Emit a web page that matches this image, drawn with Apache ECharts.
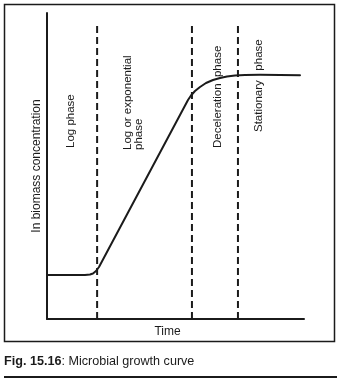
<!DOCTYPE html>
<html>
<head>
<meta charset="utf-8">
<script src="https://cdn.jsdelivr.net/npm/echarts@6/dist/echarts.min.js"></script>
<style>
  html, body { margin: 0; padding: 0; background: #ffffff; }
  #chart { width: 344px; height: 385px; }
</style>
</head>
<body>
<div id="chart"></div>
<script>
// Growth curve: time (relative units, 0-100) vs ln biomass concentration (relative units, 0-100)
const timeValues = [0, 14.79, 16.73, 17.90, 19.07, 20.23, 54.86, 56.03, 57.59, 59.53, 61.87, 64.59, 67.32, 70.04, 73.15, 77.04, 82.88, 90.66, 98.44];
const lnBiomass  = [14.38, 14.38, 14.54, 14.87, 15.69, 16.99, 71.57, 73.04, 74.51, 75.82, 77.12, 78.10, 78.76, 79.25, 79.58, 79.74, 79.80, 79.74, 79.64];

// Times at which the growth phases change (dashed separators)
const phaseBoundaries = [19.5, 56.4, 74.3];
const boundaryTop = 96.7;

// Phase names, written vertically inside each region
const phaseNames = ['Log phase', 'Log or exponential\nphase', 'Deceleration  phase', 'Stationary   phase'];

const axisTitleX = 'Time';
const axisTitleY = 'In biomass concentration';
const captionBold = 'Fig. 15.16';
const captionRest = ': Microbial growth curve';

const ink = '#1b1b1b';
const font = '"Liberation Sans", Arial, Helvetica, sans-serif';

const chart = echarts.init(document.getElementById('chart'), null, { renderer: 'canvas' });

const curveData = timeValues.map((t, i) => [t, lnBiomass[i]]);

const boundarySeries = phaseBoundaries.map(x => ({
  type: 'line',
  data: [[x, 0], [x, boundaryTop]],
  symbol: 'none',
  silent: true,
  lineStyle: { color: ink, width: 2, type: [7, 4] },
  z: 1
}));

// Anchor points (bottom end of each vertical label)
const phaseLabelAnchors = [[71, 148], [133.5, 150], [218, 148], [258.5, 132]];

const phaseLabels = phaseNames.map((name, i) => ({
  type: 'text',
  x: phaseLabelAnchors[i][0],
  y: phaseLabelAnchors[i][1],
  rotation: Math.PI / 2,
  silent: true,
  style: {
    text: name,
    font: '11.5px ' + font,
    fill: ink,
    align: 'left',
    verticalAlign: 'middle',
    lineHeight: 11.5
  }
}));

chart.setOption({
  backgroundColor: '#ffffff',
  animation: false,
  grid: { left: 47, top: 13, width: 257, height: 306, containLabel: false },
  xAxis: {
    type: 'value',
    min: 0,
    max: 100,
    name: axisTitleX,
    nameLocation: 'middle',
    nameGap: 7,
    nameTextStyle: { color: ink, fontSize: 12, fontFamily: font, padding: [0, 16, 0, 0] },
    axisLine: { show: true, lineStyle: { color: ink, width: 2 } },
    axisTick: { show: false },
    axisLabel: { show: false },
    splitLine: { show: false }
  },
  yAxis: {
    type: 'value',
    min: 0,
    max: 100,
    name: axisTitleY,
    nameLocation: 'middle',
    nameGap: 4,
    nameTextStyle: { color: ink, fontSize: 12, fontFamily: font },
    axisLine: { show: true, lineStyle: { color: ink, width: 2 } },
    axisTick: { show: false },
    axisLabel: { show: false },
    splitLine: { show: false }
  },
  series: [
    {
      type: 'line',
      data: curveData,
      symbol: 'none',
      smooth: false,
      lineStyle: { color: ink, width: 2, join: 'round', cap: 'round' },
      z: 2
    },
    ...boundarySeries
  ],
  graphic: [
    {
      type: 'rect',
      silent: true,
      shape: { x: 4.5, y: 4.5, width: 330, height: 337 },
      style: { fill: 'none', stroke: ink, lineWidth: 1.5 }
    },
    ...phaseLabels,
    {
      type: 'text',
      x: 4,
      y: 362,
      silent: true,
      style: {
        text: '{b|' + captionBold + '}{n|' + captionRest + '}',
        verticalAlign: 'middle',
        rich: {
          b: { fontFamily: font, fontSize: 12.6, fontWeight: 'bold', fill: ink },
          n: { fontFamily: font, fontSize: 12.6, fill: ink }
        }
      }
    },
    {
      type: 'line',
      silent: true,
      shape: { x1: 4, y1: 377, x2: 337, y2: 377 },
      style: { stroke: ink, lineWidth: 2 }
    }
  ]
});
</script>
</body>
</html>
